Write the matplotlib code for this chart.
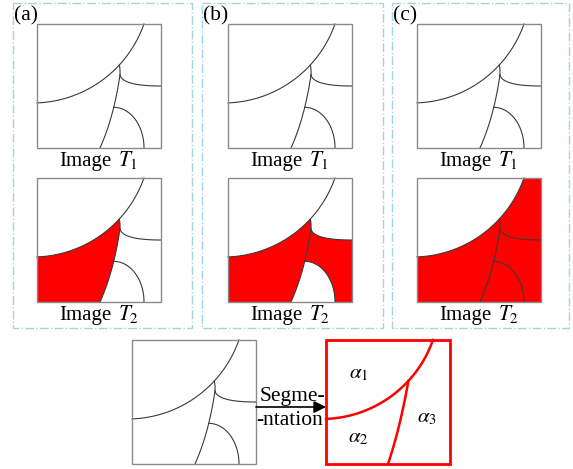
import numpy as np
import matplotlib.pyplot as plt
from matplotlib.patches import Rectangle, Polygon

plt.rcParams['font.family'] = ['Liberation Serif', 'DejaVu Serif']
plt.rcParams['mathtext.fontset'] = 'stix'

# panel layout (pixels)
panel_labels = ['(a)', '(b)', '(c)']
panel_boxes = [(13, 3, 192, 328), (202, 3, 383, 328), (392, 3, 569, 328)]
square_x = [37, 228, 417]
row_y = [24, 178]          # top edge of the square in each row
side = 124
bottom_left = (132, 340)
bottom_right = (326, 340)
region_names = ['$\\alpha_1$', '$\\alpha_2$', '$\\alpha_3$']
region_pos = [(0.26, 0.73), (0.26, 0.21), (0.81, 0.37)]

RED = '#ff0000'
LINE = '#3a3a3a'

fig = plt.figure(figsize=(5.73, 4.69), dpi=100)
ax = fig.add_axes([0, 0, 1, 1])
ax.set_xlim(0, 573)
ax.set_ylim(469, 0)
ax.axis('off')


def bez(p0, c, p1, n=60):
    t = np.linspace(0, 1, n)[:, None]
    p0, c, p1 = np.array(p0), np.array(c), np.array(p1)
    return (1 - t) ** 2 * p0 + 2 * t * (1 - t) * c + t ** 2 * p1


# grain boundaries in unit square coords (v up)
cx, cy, r = -0.036, 1.315, 0.952
a_left = np.arctan2(0.363 - cy, 0 - cx)
a_top = np.arctan2(1 - cy, 0.863 - cx)
J1 = (0.664, 0.669)
J2 = (0.669, 0.589)
a_j1 = np.arctan2(J1[1] - cy, J1[0] - cx)


def arc(a0, a1, n=120):
    a = np.linspace(a0, a1, n)
    return np.column_stack([cx + r * np.cos(a), cy + r * np.sin(a)])


big_arc = arc(a_left, a_top)
stem = bez(J1, (0.672, 0.63), J2, 20)
down = bez(J2, (0.62, 0.25), (0.508, 0.0))
right_curve = bez(J2, (0.69, 0.50), (1.0, 0.50))
k = 24
start = down[k]
t = np.linspace(np.pi / 2, 0, 60)
ea, eb, ex = 0.863 - start[0], start[1], start[0]
inner = np.column_stack([ex + ea * np.cos(t), eb * np.sin(t)])
seg_line = bez(J1, (0.60, 0.30), (0.50, 0.0))


def to_px(pts, x0, y0):
    pts = np.asarray(pts)
    return np.column_stack([x0 + pts[:, 0] * side, y0 + (1 - pts[:, 1]) * side])


def draw_square(x0, y0, fill=None, line_color=LINE, border='#8a8a8a', lw=0.8, blw=1.0):
    ax.add_patch(Rectangle((x0, y0), side, side, facecolor='white',
                           edgecolor='none', zorder=1))
    if fill == 'a' or fill == 'b':
        poly = np.vstack([arc(a_left, a_j1), stem, down, [(0, 0)]])
        ax.add_patch(Polygon(to_px(poly, x0, y0), facecolor=RED,
                             edgecolor='none', zorder=2))
    if fill == 'b':
        poly = np.vstack([right_curve, [(1, 0)], inner[::-1], down[k::-1]])
        ax.add_patch(Polygon(to_px(poly, x0, y0), facecolor=RED,
                             edgecolor='none', zorder=2))
    if fill == 'c':
        poly = np.vstack([big_arc, [(1, 1), (1, 0), (0, 0)]])
        ax.add_patch(Polygon(to_px(poly, x0, y0), facecolor=RED,
                             edgecolor='none', zorder=2))
    for c in (big_arc, stem, down, right_curve, inner):
        p = to_px(c, x0, y0)
        ax.plot(p[:, 0], p[:, 1], color=line_color, lw=lw, zorder=3)
    ax.add_patch(Rectangle((x0, y0), side, side, facecolor='none',
                           edgecolor=border, lw=blw, zorder=4))


fills = ['a', 'b', 'c']
for i in range(3):
    bx0, by0, bx1, by1 = panel_boxes[i]
    ax.add_patch(Rectangle((bx0, by0), bx1 - bx0, by1 - by0, facecolor='none',
                           edgecolor='#a3d5df', lw=1.0, ls='-.', zorder=0))
    ax.text(bx0 + 1, by0 + 3, panel_labels[i], fontsize=15.5, va='top', ha='left')
    for j, yy in enumerate(row_y):
        draw_square(square_x[i], yy, fill=None if j == 0 else fills[i])
        ax.text(square_x[i] + 0.39 * side, yy + side + 18, 'Image',
                fontsize=15, ha='center', va='baseline')
        ax.text(square_x[i] + 0.655 * side, yy + side + 18, '$T_%d$' % (j + 1),
                fontsize=15.5, ha='left', va='baseline')

# segmentation example
draw_square(*bottom_left)
x0, y0 = bottom_right
ax.add_patch(Rectangle((x0, y0), side, side, facecolor='none',
                       edgecolor=RED, lw=2.0, zorder=4))
for c in (arc(a_left, a_top), seg_line):
    p = to_px(c, x0, y0)
    ax.plot(p[:, 0], p[:, 1], color=RED, lw=1.8, zorder=3)
for name, (u, v) in zip(region_names, region_pos):
    ax.text(x0 + u * side, y0 + (1 - v) * side, name, fontsize=15,
            ha='center', va='center')

ay = 407
ax.annotate('', xy=(bottom_right[0], ay), xytext=(bottom_left[0] + side, ay),
            arrowprops=dict(arrowstyle='-|>', color='black', lw=1.2,
                            mutation_scale=18, shrinkA=0, shrinkB=0), zorder=5)
ax.text(292, 401, 'Segme-', fontsize=15.5, ha='center', va='baseline')
ax.text(290, 425, '-ntation', fontsize=15.5, ha='center', va='baseline')

fig.savefig('out.png', dpi=100)
